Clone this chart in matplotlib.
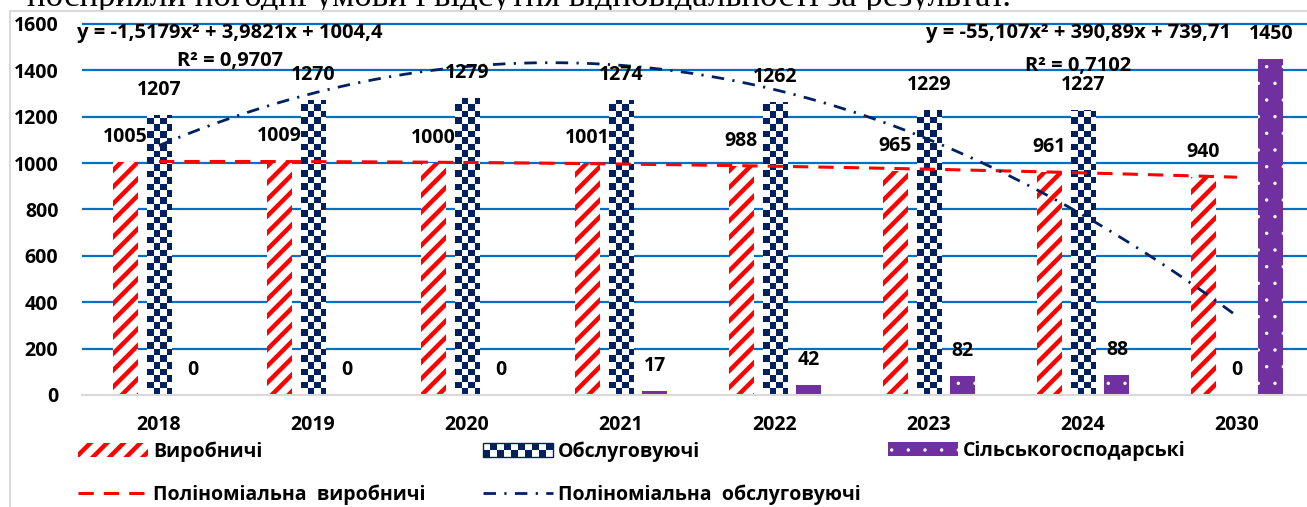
import numpy as np
import matplotlib
matplotlib.use("Agg")
import matplotlib.pyplot as plt
from matplotlib.colors import ListedColormap
from matplotlib.patches import Patch, Rectangle
from matplotlib.lines import Line2D
from matplotlib.legend_handler import HandlerBase

plt.rcParams['font.family'] = ['Open Sans', 'DejaVu Sans']
plt.rcParams['font.weight'] = 'bold'

# дані
years = ['2018', '2019', '2020', '2021', '2022', '2023', '2024', '2030']
vyrobnychi = [1005, 1009, 1000, 1001, 988, 965, 961, 940]
obsluhovuiuchi = [1207, 1270, 1279, 1274, 1262, 1229, 1227, 0]
silskohospodarski = [0, 0, 0, 17, 42, 82, 88, 1450]

# коефіцієнти поліноміальних трендів (x = 1..8)
trend_vyr = [-1.5179, 3.9821, 1004.4]
trend_obs = [-55.107, 390.89, 739.71]
eq_vyr = ['y = -1,5179x² + 3,9821x + 1004,4', 'R² = 0,9707']
eq_obs = ['y = -55,107x² + 390,89x + 739,71', 'R² = 0,7102']

labels = ['Виробничі', 'Обслуговуючі', 'Сільськогосподарські',
          'Поліноміальна  виробничі', 'Поліноміальна  обслуговуючі']
top_line = 'посприяли погодні умови і відсутня відповідальності за результат.'

RED = '#FF0000'
NAVY = '#002060'
PURPLE = '#7030A0'
BLUE = '#0070C0'
GRAY = '#D9D9D9'

W, H = 1307, 507
fig = plt.figure(figsize=(W / 100, H / 100), dpi=100)
ax = fig.add_axes([82 / W, 112 / H, 1232 / W, 375.7 / H])

x = np.arange(len(years))
bw = 0.162
step = 0.22
ymax = 1620
red_hatch_lw = 3.2
dot_hatch_lw = 0.05

with plt.rc_context({'hatch.linewidth': red_hatch_lw}):
    bars_vyr = ax.bar(x - step, vyrobnychi, bw, facecolor='white', edgecolor=RED,
                      linewidth=0, hatch='//', zorder=2)
bars_obs = ax.bar(x, obsluhovuiuchi, bw, facecolor='white', linewidth=0, zorder=2)
with plt.rc_context({'hatch.linewidth': dot_hatch_lw}):
    bars_sil = ax.bar(x + step, silskohospodarski, bw, facecolor=PURPLE,
                      edgecolor='white', linewidth=0, hatch='.', zorder=2)

ax.set_xlim(-0.5, len(years) - 0.5)
ax.set_ylim(0, ymax)

# шахова заливка стовпців "Обслуговуючі"
bbox = ax.get_window_extent()
px_x = bbox.width / (len(years))
px_y = bbox.height / ymax
cell = 6.6
checker_cmap = ListedColormap(['white', NAVY])
for r in bars_obs:
    h = r.get_height()
    if h <= 0:
        continue
    ncols = int(np.ceil(r.get_width() * px_x / cell))
    nrows = int(np.ceil(h * px_y / cell))
    board = np.add.outer(np.arange(nrows), np.arange(ncols)) % 2
    x0 = r.get_x()
    im = ax.imshow(board, cmap=checker_cmap, origin='lower', aspect='auto',
                   interpolation='nearest', zorder=2.2,
                   extent=(x0, x0 + ncols * cell / px_x, 0, nrows * cell / px_y))
    im.set_clip_path(r)

ax.set_xlim(-0.5, len(years) - 0.5)
ax.set_ylim(0, ymax)

# тренди
xs = np.linspace(1, len(years), 300)
ax.plot(xs - 1, np.polyval(trend_vyr, xs), color=RED, lw=2.2,
        dashes=(5, 3.3), zorder=3)
ax.plot(xs - 1, np.polyval(trend_obs, xs), color=NAVY, lw=2.0,
        dashes=(4.5, 3, 0.8, 3), zorder=3)

# підписи значень
for bars, vals in [(bars_vyr, vyrobnychi), (bars_obs, obsluhovuiuchi),
                   (bars_sil, silskohospodarski)]:
    for r, v in zip(bars, vals):
        ax.annotate(str(v), (r.get_x() + r.get_width() / 2, v), xytext=(0, 25),
                    textcoords='offset pixels', ha='center', va='center',
                    fontsize=14, fontweight='bold', zorder=4)

# рівняння трендів
ax.text(0.46, 1561, eq_vyr[0], ha='center', va='center', fontsize=14.5, zorder=4)
ax.text(0.46, 1440, eq_vyr[1], ha='center', va='center', fontsize=14.5, zorder=4)
ax.text(5.97, 1561, eq_obs[0], ha='center', va='center', fontsize=14.5, zorder=4)
ax.text(5.97, 1418, eq_obs[1], ha='center', va='center', fontsize=14.5, zorder=4)

ax.set_xticks(x, years)
ax.set_yticks(range(0, 1601, 200))
ax.tick_params(axis='both', length=0, labelsize=14)
ax.tick_params(axis='y', pad=17)
ax.tick_params(axis='x', pad=14.5)
ax.yaxis.grid(True, color=BLUE, lw=1.6)
ax.get_ygridlines()[0].set_visible(False)
ax.set_axisbelow(True)
for s in ['top', 'right', 'left']:
    ax.spines[s].set_visible(False)
ax.spines['bottom'].set_color(GRAY)
ax.spines['bottom'].set_linewidth(1.5)


class HandlerChecker(HandlerBase):
    def create_artists(self, legend, orig_handle, xdescent, ydescent,
                       width, height, fontsize, trans):
        ncols, nrows = 10, 2
        cw, ch = width / ncols, height / nrows
        arts = [Rectangle((-xdescent, -ydescent), width, height, facecolor='white',
                          edgecolor=NAVY, lw=1, transform=trans)]
        for i in range(nrows):
            for j in range(ncols):
                if (i + j) % 2 == 0:
                    arts.append(Rectangle((-xdescent + j * cw, -ydescent + i * ch),
                                          cw, ch, facecolor=NAVY, lw=0,
                                          transform=trans))
        return arts


h_vyr = Patch(facecolor='white', edgecolor=RED, linewidth=0, hatch='//')
h_sil = Patch(facecolor=PURPLE, edgecolor='white', linewidth=0, hatch='.')
h_obs = Patch(facecolor='white')
h_tvyr = Line2D([], [], color=RED, lw=2.2, dashes=(5, 3.3))
h_tobs = Line2D([], [], color=NAVY, lw=2.0, dashes=(4.5, 3, 0.8, 3))

leg_kw = dict(loc='upper left', frameon=False, fontsize=14, handlelength=3.6,
              handletextpad=0.25, labelspacing=1.17, borderaxespad=0,
              borderpad=0)
leg_top = 1 - 441 / H
with plt.rc_context({'hatch.linewidth': red_hatch_lw}):
    fig.legend([h_vyr, h_tvyr], [labels[0], labels[3]],
               bbox_to_anchor=(78 / W, leg_top), **leg_kw)
fig.legend([h_obs, h_tobs], [labels[1], labels[4]],
           bbox_to_anchor=(483 / W, leg_top),
           handler_map={h_obs: HandlerChecker()}, **leg_kw)
with plt.rc_context({'hatch.linewidth': dot_hatch_lw}):
    fig.legend([h_sil], [labels[2]], bbox_to_anchor=(888 / W, leg_top), **leg_kw)

# рядок тексту над діаграмою та рамка
fig.text(27 / W, 1 - 5.5 / H, top_line, family=['Liberation Serif', 'DejaVu Serif'],
         fontsize=25, fontweight='normal', ha='left', va='baseline', zorder=1)
fig.add_artist(Rectangle((10 / W, 1 - 16 / H), 1, 5.5 / H, transform=fig.transFigure,
                         facecolor='white', edgecolor='none', zorder=5))
fig.add_artist(Line2D([10 / W, 1], [1 - 10.5 / H] * 2, transform=fig.transFigure,
                      color=GRAY, lw=1.5, zorder=6))
fig.add_artist(Line2D([10 / W] * 2, [0, 1 - 10.5 / H], transform=fig.transFigure,
                      color=GRAY, lw=1.5, zorder=6))

fig.savefig('out.png', dpi=100)
